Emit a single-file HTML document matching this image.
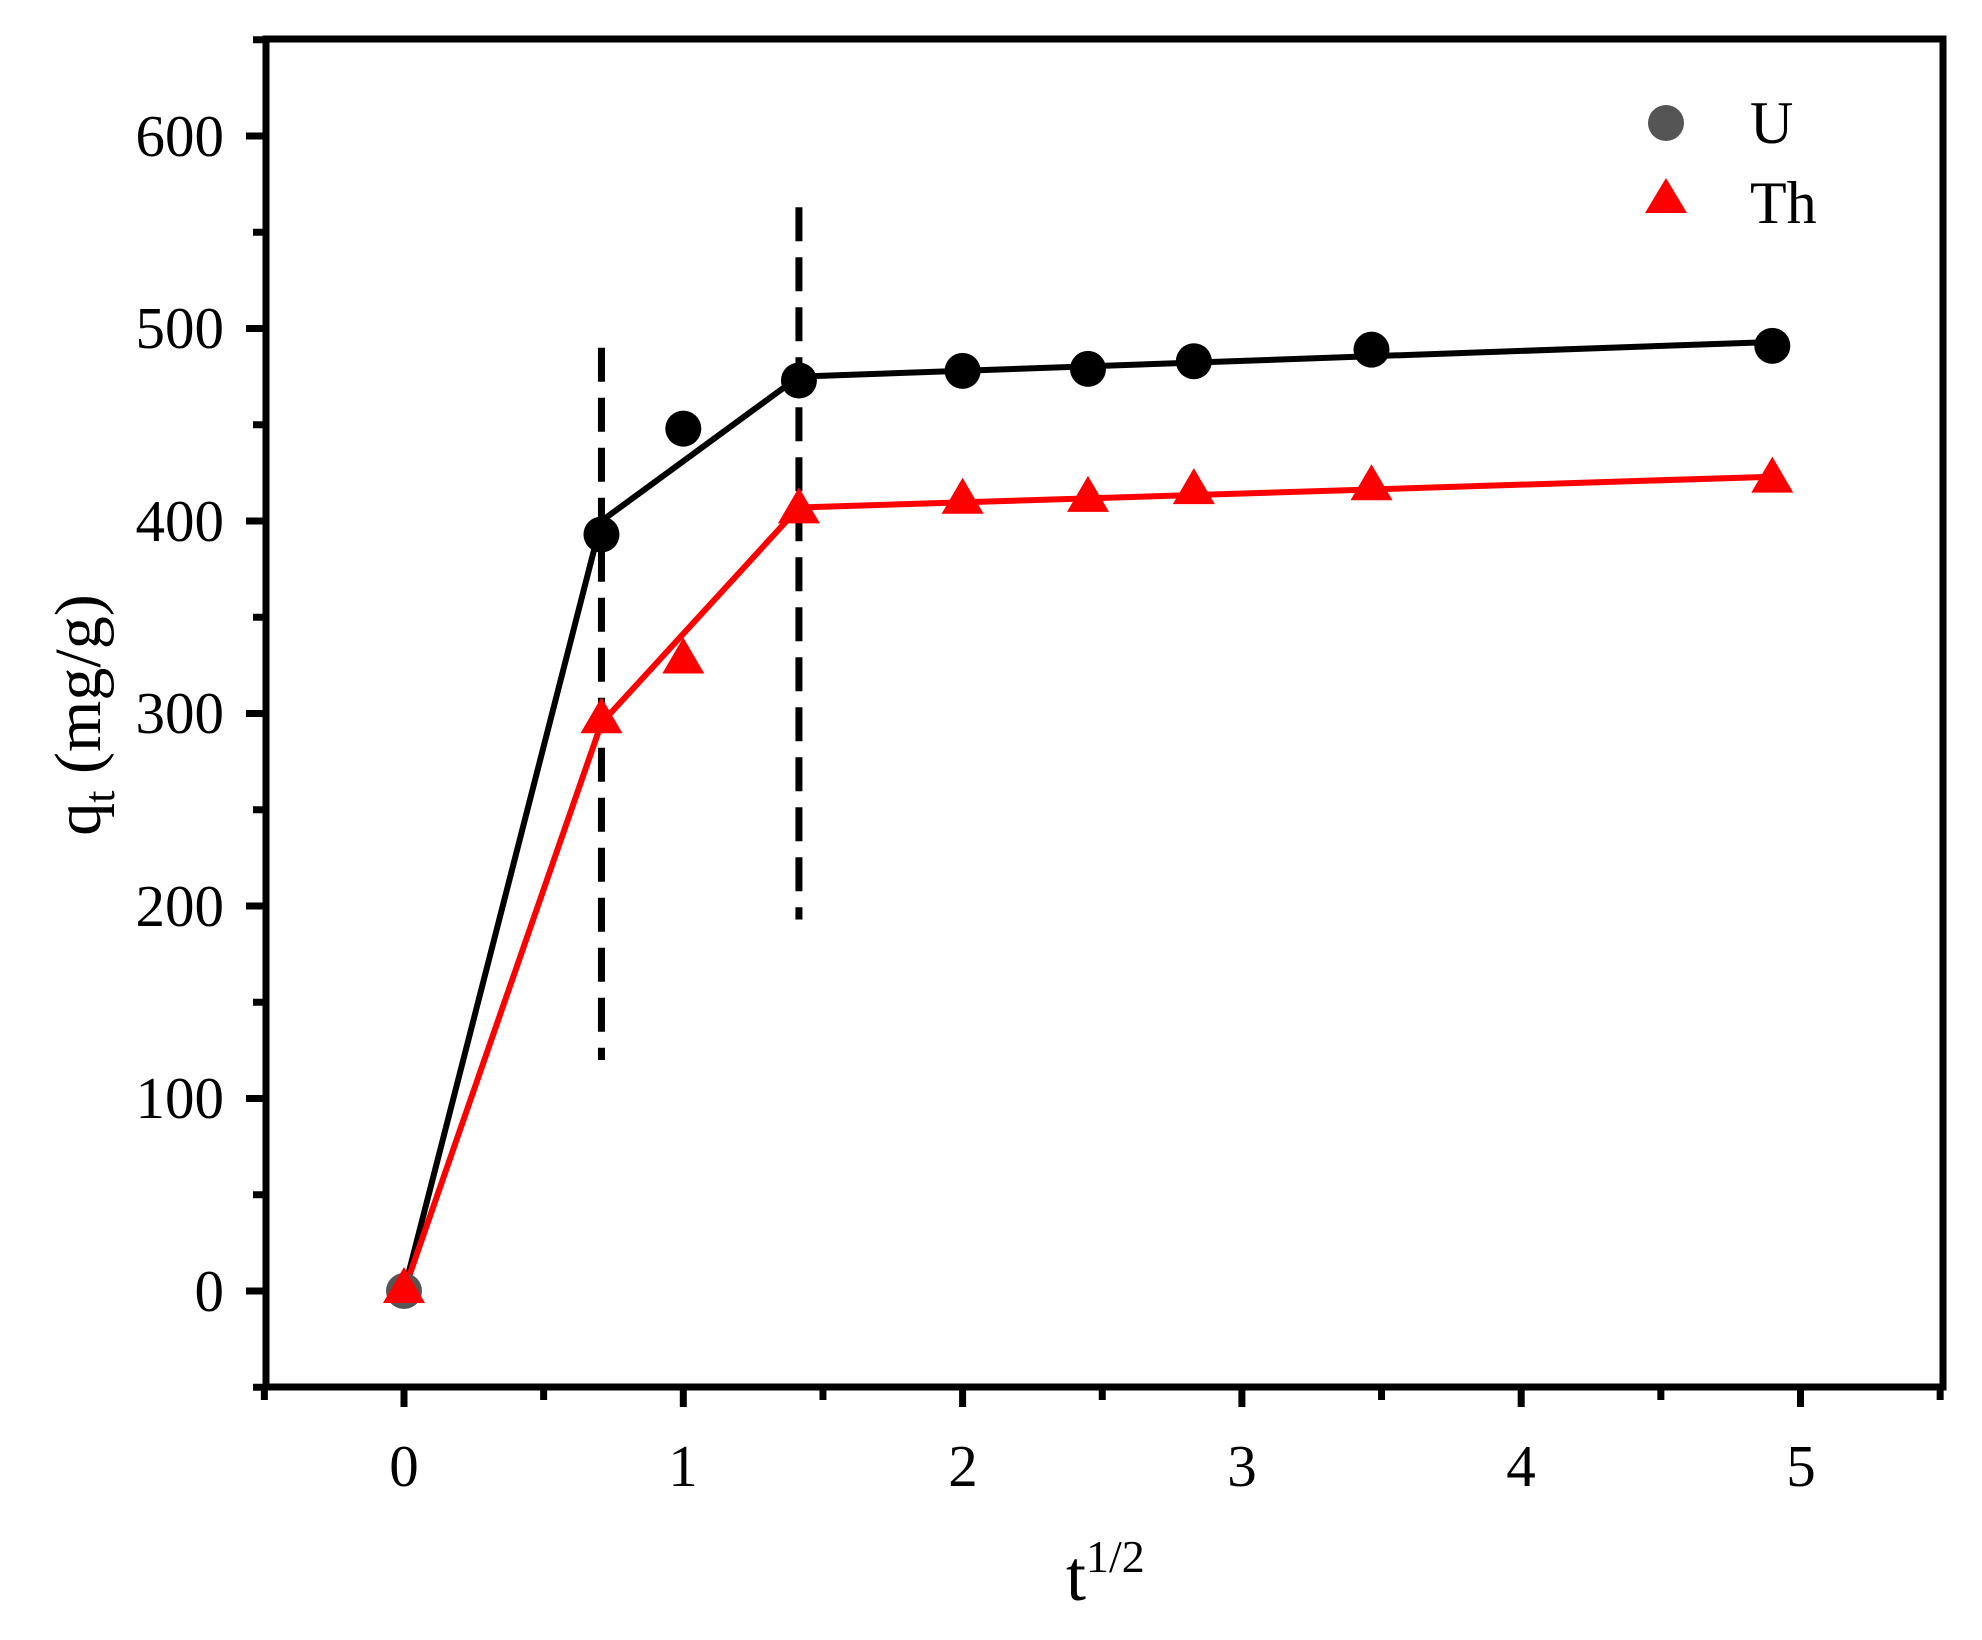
<!DOCTYPE html>
<html><head><meta charset="utf-8"><style>
html,body{margin:0;padding:0;background:#fff}
svg{display:block}
text{font-family:"Liberation Serif",serif;fill:#000}
</style></head><body>
<svg id="s" width="1982" height="1640" viewBox="0 0 1982 1640" xmlns="http://www.w3.org/2000/svg">
<g id="g"></g>
<rect x="266" y="39" width="1677" height="1348" fill="none" stroke="#000" stroke-width="7"/>
<g font-size="59" text-anchor="end">
<text x="224" y="1311">0</text>
<text x="224" y="1118">100</text>
<text x="224" y="926">200</text>
<text x="224" y="733">300</text>
<text x="224" y="541">400</text>
<text x="224" y="348">500</text>
<text x="224" y="156">600</text>
</g>
<g font-size="59" text-anchor="middle">
<text x="404" y="1486">0</text>
<text x="683" y="1486">1</text>
<text x="963" y="1486">2</text>
<text x="1242" y="1486">3</text>
<text x="1521" y="1486">4</text>
<text x="1801" y="1486">5</text>
</g>
<text x="1086" y="1600" font-size="72" text-anchor="end">t</text>
<text x="1086" y="1572" font-size="46">1/2</text>
<text transform="translate(100,715) rotate(-90)" font-size="66" text-anchor="middle">q<tspan font-size="44" dy="14">t</tspan><tspan dy="-14"> (mg/g)</tspan></text>
<circle cx="1666" cy="123" r="18" fill="#555"/>
<polygon points="1666,178 1687,213 1645,213" fill="#f00"/>
<text x="1750" y="143" font-size="60">U</text>
<text x="1750" y="223" font-size="60">Th</text>
</svg>
<script>
var X=function(v){return 404+v*279.3}, Y=function(v){return 1291-v*1.925};
var g=document.getElementById('g'),h='';
function ln(x1,y1,x2,y2,c,w,d){h+='<line x1="'+X(x1)+'" y1="'+Y(y1)+'" x2="'+X(x2)+'" y2="'+Y(y2)+'" stroke="'+c+'" stroke-width="'+w+'"'+(d?' stroke-dasharray="'+d+'"':'')+'/>';}
for(var i=-0.5;i<=5.51;i+=0.5){var maj=Math.abs(i-Math.round(i))<0.01;var x=X(i);h+='<line x1="'+x+'" y1="1387" x2="'+x+'" y2="'+(1387+(maj?20:13))+'" stroke="#000" stroke-width="7"/>';}
for(var v=-50;v<=650;v+=50){var maj=v%100==0;var y=Y(v);h+='<line x1="266" y1="'+y+'" x2="'+(266-(maj?20:13))+'" y2="'+y+'" stroke="#000" stroke-width="7"/>';}
ln(0.707,490,0.707,120,'#000',7,'34,16');
ln(1.414,563,1.414,193,'#000',7,'34,16');
ln(0,0,0.707,400,'#000',6);ln(0.707,400,1.414,475,'#000',6);ln(1.414,475,4.899,493,'#000',6);
ln(0,0,0.707,295,'#f00',6);ln(0.707,295,1.414,407,'#f00',6);ln(1.414,407,4.899,423,'#f00',6);
var U=[[0,0],[0.707,393],[1,448],[1.414,473],[2,478],[2.449,479],[2.828,483],[3.464,489],[4.899,491]];
var T=[[0,0],[0.707,296],[1,327],[1.414,405],[2,410],[2.449,411],[2.828,415],[3.464,417],[4.899,421]];
U.forEach(function(p,i){h+='<circle cx="'+X(p[0])+'" cy="'+Y(p[1])+'" r="18" fill="'+(i==0?'#555':'#000')+'"/>';});
T.forEach(function(p){var x=X(p[0]),y=Y(p[1]);h+='<polygon points="'+x+','+(y-24)+' '+(x+21)+','+(y+12)+' '+(x-21)+','+(y+12)+'" fill="#f00"/>';});
g.innerHTML=h;
</script>
</body></html>
